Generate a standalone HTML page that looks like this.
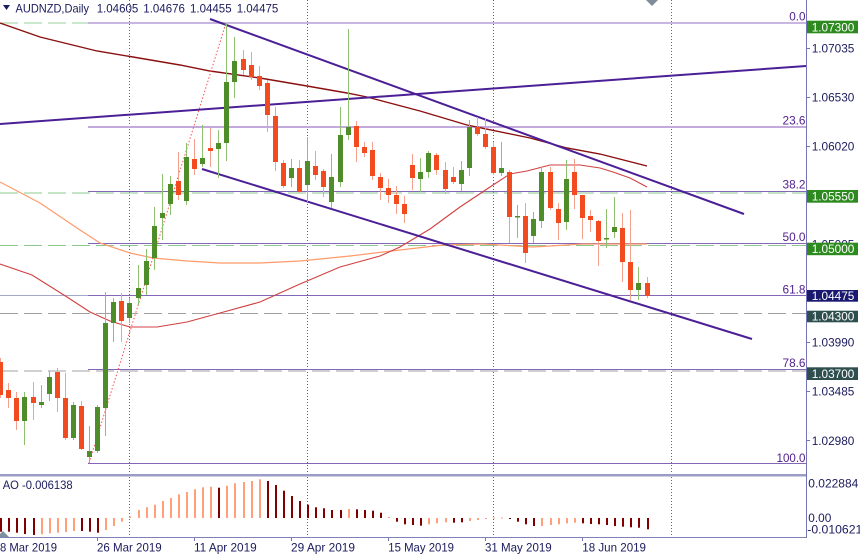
<!DOCTYPE html>
<html><head><meta charset="utf-8">
<style>
html,body{margin:0;padding:0;background:#fff;overflow:hidden;}
svg{display:block;}
.u{fill:#4f8c2a}.d{fill:#f24b1f}
.wu{stroke:#8ec070;stroke-width:1}.wd{stroke:#f5a08c;stroke-width:1}
.L{fill:#ffa07a}.D{fill:#800000}
.t{font-family:"Liberation Sans",Arial,sans-serif;font-size:12px;fill:#1b1b5e}
.f{font-family:"Liberation Sans",Arial,sans-serif;font-size:12px;fill:#4e1f8c}
.w{font-family:"Liberation Sans",Arial,sans-serif;font-size:12px;fill:#fff}
</style></head>
<body>
<svg width="860" height="556" viewBox="0 0 860 556" xmlns="http://www.w3.org/2000/svg">
<rect width="860" height="556" fill="#fff"/>
<!-- vertical grid -->
<g stroke="#5c5ca0" stroke-width="1" stroke-dasharray="1 2">
<line x1="129.5" y1="0" x2="129.5" y2="538"/>
<line x1="307.5" y1="0" x2="307.5" y2="538"/>
<line x1="493.5" y1="0" x2="493.5" y2="538"/>
<line x1="671.5" y1="0" x2="671.5" y2="538"/>
</g>
<!-- horizontal dashed levels -->
<g stroke-width="1" stroke-dasharray="18 6" fill="none">
<line x1="0" y1="23" x2="806" y2="23" stroke="#9ad09a"/>
<line x1="0" y1="193" x2="806" y2="193" stroke="#8cc88c"/>
<line x1="0" y1="245.5" x2="806" y2="245.5" stroke="#8cc88c"/>
<line x1="0" y1="313.5" x2="806" y2="313.5" stroke="#a0a0a0"/>
<line x1="0" y1="371" x2="806" y2="371" stroke="#a0a0a0"/>
</g>
<!-- bid line -->
<line x1="0" y1="295.5" x2="806" y2="295.5" stroke="#a4a8c8" stroke-width="1"/>
<!-- fib levels -->
<rect x="88" y="22" width="718" height="2" fill="#c9b6e0"/>
<rect x="88" y="126" width="718" height="2" fill="#c2aadc"/>
<g stroke="#8466b8" stroke-width="1">
<line x1="88" y1="191.5" x2="806" y2="191.5"/>
<line x1="88" y1="243.5" x2="806" y2="243.5"/>
<line x1="88" y1="295.5" x2="806" y2="295.5"/>
<line x1="88" y1="369.5" x2="806" y2="369.5"/>
<line x1="88" y1="463.5" x2="806" y2="463.5"/>
</g>
<g class="f" text-anchor="end">
<text x="805.5" y="20.5" textLength="16.3" lengthAdjust="spacingAndGlyphs">0.0</text>
<text x="805.5" y="124.3" textLength="23" lengthAdjust="spacingAndGlyphs">23.6</text>
<text x="805.5" y="188.5" textLength="23" lengthAdjust="spacingAndGlyphs">38.2</text>
<text x="805.5" y="241" textLength="23" lengthAdjust="spacingAndGlyphs">50.0</text>
<text x="805.5" y="293.5" textLength="23" lengthAdjust="spacingAndGlyphs">61.8</text>
<text x="805.5" y="367" textLength="23" lengthAdjust="spacingAndGlyphs">78.6</text>
<text x="805.5" y="462" textLength="29" lengthAdjust="spacingAndGlyphs">100.0</text>
</g>
<!-- moving averages -->
<polyline fill="none" stroke="#ff9a6a" stroke-width="1.2" points="0,182 40,203 80,230 100,243 130,253 153,258 187,261 220,263 260,263 300,261 350,256 400,250 443,245 483,244 533,247 583,244 647,244"/>
<polyline fill="none" stroke="#d04040" stroke-width="1.1" points="0,264 32,275 67,297 90,312 110,321 130,327 157,327 187,322 220,313 260,302 300,284 340,267 380,256 400,247 430,229 460,207 493,185 510,174 527,171 550,165 580,165 600,168 613,172 630,178 647,187"/>
<polyline fill="none" stroke="#8b1010" stroke-width="1.4" points="0,23 40,37 97,51 133,57 180,65 210,71 260,78 307,86 347,93 367,97 420,111 467,125 530,138 567,148 600,154 647,166"/>
<!-- trend lines -->
<g stroke="#4b1f96" stroke-width="2">
<line x1="210" y1="19" x2="744" y2="214"/>
<line x1="202" y1="169" x2="752" y2="339"/>
<line x1="0" y1="124" x2="806" y2="66"/>
</g>
<line x1="89" y1="463" x2="226" y2="23" stroke="#ff4d4d" stroke-width="1" stroke-dasharray="1.5 2"/>
<!-- candles -->
<g>
<line x1="0.5" y1="358" x2="0.5" y2="398" class="wd"/><rect x="-2" y="362" width="5" height="33" class="d"/>
<line x1="8.5" y1="383" x2="8.5" y2="408" class="wd"/><rect x="6" y="390" width="5" height="8" class="d"/>
<line x1="16.5" y1="392" x2="16.5" y2="430" class="wd"/><rect x="14" y="398" width="5" height="23" class="d"/>
<line x1="24.5" y1="392" x2="24.5" y2="445" class="wu"/><rect x="22" y="397" width="5" height="24" class="u"/>
<line x1="33.5" y1="382" x2="33.5" y2="420" class="wd"/><rect x="31" y="397" width="5" height="6" class="d"/>
<line x1="41.5" y1="385" x2="41.5" y2="408" class="wu"/><rect x="39" y="402" width="5" height="3" class="u"/>
<line x1="49.5" y1="371" x2="49.5" y2="401" class="wu"/><rect x="47" y="377" width="5" height="17" class="u"/>
<line x1="57.5" y1="368" x2="57.5" y2="412" class="wd"/><rect x="55" y="372" width="5" height="26" class="d"/>
<line x1="65.5" y1="373" x2="65.5" y2="440" class="wd"/><rect x="63" y="398" width="5" height="40" class="d"/>
<line x1="73.5" y1="402" x2="73.5" y2="440" class="wu"/><rect x="71" y="405" width="5" height="33" class="u"/>
<line x1="81.5" y1="401" x2="81.5" y2="450" class="wd"/><rect x="79" y="406" width="5" height="43" class="d"/>
<line x1="89.5" y1="426" x2="89.5" y2="463" class="wu"/><rect x="87" y="451" width="5" height="6" class="u"/>
<line x1="97.5" y1="405" x2="97.5" y2="453" class="wu"/><rect x="95" y="407" width="5" height="44" class="u"/>
<line x1="105.5" y1="292" x2="105.5" y2="436" class="wu"/><rect x="103" y="323" width="5" height="85" class="u"/>
<line x1="113.5" y1="298" x2="113.5" y2="342" class="wu"/><rect x="111" y="302" width="5" height="21" class="u"/>
<line x1="121.5" y1="293" x2="121.5" y2="342" class="wd"/><rect x="119" y="301" width="5" height="20" class="d"/>
<line x1="129.5" y1="298" x2="129.5" y2="323" class="wu"/><rect x="127" y="303" width="5" height="15" class="u"/>
<line x1="138.5" y1="265" x2="138.5" y2="305" class="wu"/><rect x="136" y="288" width="5" height="10" class="u"/>
<line x1="146.5" y1="249" x2="146.5" y2="295" class="wu"/><rect x="144" y="261" width="5" height="24" class="u"/>
<line x1="154.5" y1="207" x2="154.5" y2="270" class="wu"/><rect x="152" y="226" width="5" height="32" class="u"/>
<line x1="162.5" y1="174" x2="162.5" y2="240" class="wu"/><rect x="160" y="213" width="5" height="5" class="u"/>
<line x1="170.5" y1="176" x2="170.5" y2="215" class="wu"/><rect x="168" y="184" width="5" height="20" class="u"/>
<line x1="178.5" y1="152" x2="178.5" y2="200" class="wd"/><rect x="176" y="181" width="5" height="14" class="d"/>
<line x1="186.5" y1="143" x2="186.5" y2="205" class="wu"/><rect x="184" y="157" width="5" height="44" class="u"/>
<line x1="194.5" y1="139" x2="194.5" y2="175" class="wd"/><rect x="192" y="159" width="5" height="10" class="d"/>
<line x1="202.5" y1="125" x2="202.5" y2="167" class="wu"/><rect x="200" y="158" width="5" height="6" class="u"/>
<line x1="210.5" y1="128" x2="210.5" y2="167" class="wd"/><rect x="208" y="148" width="5" height="3" class="d"/>
<line x1="218.5" y1="130" x2="218.5" y2="178" class="wu"/><rect x="216" y="143" width="5" height="6" class="u"/>
<line x1="226.5" y1="23" x2="226.5" y2="161" class="wu"/><rect x="224" y="82" width="5" height="61" class="u"/>
<line x1="234.5" y1="37" x2="234.5" y2="98" class="wu"/><rect x="232" y="61" width="5" height="21" class="u"/>
<line x1="243.5" y1="50" x2="243.5" y2="75" class="wd"/><rect x="241" y="59" width="5" height="11" class="d"/>
<line x1="251.5" y1="52" x2="251.5" y2="80" class="wd"/><rect x="249" y="65" width="5" height="12" class="d"/>
<line x1="259.5" y1="66" x2="259.5" y2="90" class="wd"/><rect x="257" y="76" width="5" height="10" class="d"/>
<line x1="267.5" y1="80" x2="267.5" y2="132" class="wd"/><rect x="265" y="83" width="5" height="32" class="d"/>
<line x1="275.5" y1="107" x2="275.5" y2="171" class="wd"/><rect x="273" y="116" width="5" height="46" class="d"/>
<line x1="283.5" y1="160" x2="283.5" y2="188" class="wd"/><rect x="281" y="163" width="5" height="23" class="d"/>
<line x1="291.5" y1="159" x2="291.5" y2="187" class="wu"/><rect x="289" y="168" width="5" height="10" class="u"/>
<line x1="299.5" y1="160" x2="299.5" y2="193" class="wd"/><rect x="297" y="168" width="5" height="24" class="d"/>
<line x1="307.5" y1="137" x2="307.5" y2="202" class="wu"/><rect x="305" y="161" width="5" height="24" class="u"/>
<line x1="315.5" y1="151" x2="315.5" y2="180" class="wd"/><rect x="313" y="166" width="5" height="9" class="d"/>
<line x1="323.5" y1="169" x2="323.5" y2="197" class="wd"/><rect x="321" y="171" width="5" height="16" class="d"/>
<line x1="331.5" y1="154" x2="331.5" y2="208" class="wu"/><rect x="329" y="177" width="5" height="25" class="u"/>
<line x1="340.5" y1="107" x2="340.5" y2="187" class="wu"/><rect x="338" y="135" width="5" height="47" class="u"/>
<line x1="348.5" y1="29" x2="348.5" y2="140" class="wu"/><rect x="346" y="127" width="5" height="8" class="u"/>
<line x1="356.5" y1="121" x2="356.5" y2="162" class="wd"/><rect x="354" y="126" width="5" height="21" class="d"/>
<line x1="364.5" y1="142" x2="364.5" y2="157" class="wd"/><rect x="362" y="147" width="5" height="6" class="d"/>
<line x1="372.5" y1="142" x2="372.5" y2="180" class="wd"/><rect x="370" y="150" width="5" height="26" class="d"/>
<line x1="380.5" y1="173" x2="380.5" y2="200" class="wd"/><rect x="378" y="177" width="5" height="11" class="d"/>
<line x1="388.5" y1="179" x2="388.5" y2="203" class="wd"/><rect x="386" y="188" width="5" height="7" class="d"/>
<line x1="396.5" y1="186" x2="396.5" y2="214" class="wd"/><rect x="394" y="195" width="5" height="9" class="d"/>
<line x1="404.5" y1="196" x2="404.5" y2="223" class="wd"/><rect x="402" y="204" width="5" height="10" class="d"/>
<line x1="412.5" y1="154" x2="412.5" y2="190" class="wd"/><rect x="410" y="165" width="5" height="13" class="d"/>
<line x1="420.5" y1="158" x2="420.5" y2="192" class="wu"/><rect x="418" y="172" width="5" height="7" class="u"/>
<line x1="428.5" y1="151" x2="428.5" y2="178" class="wu"/><rect x="426" y="153" width="5" height="19" class="u"/>
<line x1="436.5" y1="153" x2="436.5" y2="175" class="wd"/><rect x="434" y="155" width="5" height="15" class="d"/>
<line x1="445.5" y1="162" x2="445.5" y2="194" class="wd"/><rect x="443" y="170" width="5" height="19" class="d"/>
<line x1="453.5" y1="167" x2="453.5" y2="184" class="wd"/><rect x="451" y="177" width="5" height="5" class="d"/>
<line x1="461.5" y1="161" x2="461.5" y2="191" class="wu"/><rect x="459" y="170" width="5" height="14" class="u"/>
<line x1="469.5" y1="120" x2="469.5" y2="176" class="wu"/><rect x="467" y="127" width="5" height="41" class="u"/>
<line x1="477.5" y1="117" x2="477.5" y2="136" class="wd"/><rect x="475" y="127" width="5" height="7" class="d"/>
<line x1="485.5" y1="119" x2="485.5" y2="149" class="wd"/><rect x="483" y="134" width="5" height="13" class="d"/>
<line x1="493.5" y1="142" x2="493.5" y2="175" class="wd"/><rect x="491" y="147" width="5" height="26" class="d"/>
<line x1="501.5" y1="142" x2="501.5" y2="176" class="wu"/><rect x="499" y="168" width="5" height="5" class="u"/>
<line x1="509.5" y1="170" x2="509.5" y2="243" class="wd"/><rect x="507" y="172" width="5" height="45" class="d"/>
<line x1="517.5" y1="205" x2="517.5" y2="238" class="wu"/><rect x="515" y="216" width="5" height="1.5" class="u"/>
<line x1="525.5" y1="203" x2="525.5" y2="263" class="wd"/><rect x="523" y="216" width="5" height="37" class="d"/>
<line x1="533.5" y1="212" x2="533.5" y2="243" class="wu"/><rect x="531" y="219" width="5" height="17" class="u"/>
<line x1="541.5" y1="167" x2="541.5" y2="228" class="wu"/><rect x="539" y="172" width="5" height="49" class="u"/>
<line x1="550.5" y1="167" x2="550.5" y2="210" class="wd"/><rect x="548" y="172" width="5" height="36" class="d"/>
<line x1="558.5" y1="203" x2="558.5" y2="240" class="wd"/><rect x="556" y="209" width="5" height="14" class="d"/>
<line x1="566.5" y1="160" x2="566.5" y2="230" class="wu"/><rect x="564" y="179" width="5" height="43" class="u"/>
<line x1="574.5" y1="159" x2="574.5" y2="209" class="wd"/><rect x="572" y="172" width="5" height="23" class="d"/>
<line x1="582.5" y1="195" x2="582.5" y2="239" class="wd"/><rect x="580" y="195" width="5" height="23" class="d"/>
<line x1="590.5" y1="210" x2="590.5" y2="232" class="wd"/><rect x="588" y="216" width="5" height="4" class="d"/>
<line x1="598.5" y1="220" x2="598.5" y2="266" class="wd"/><rect x="596" y="221" width="5" height="20" class="d"/>
<line x1="606.5" y1="209" x2="606.5" y2="248" class="wu"/><rect x="604" y="238" width="5" height="1.5" class="u"/>
<line x1="614.5" y1="197" x2="614.5" y2="238" class="wu"/><rect x="612" y="227" width="5" height="5" class="u"/>
<line x1="622.5" y1="213" x2="622.5" y2="282" class="wd"/><rect x="620" y="228" width="5" height="34" class="d"/>
<line x1="630.5" y1="210" x2="630.5" y2="300" class="wd"/><rect x="628" y="262" width="5" height="28" class="d"/>
<line x1="638.5" y1="267" x2="638.5" y2="300" class="wu"/><rect x="636" y="283" width="5" height="7" class="u"/>
<line x1="647.5" y1="277" x2="647.5" y2="298" class="wd"/><rect x="645" y="283" width="5" height="13" class="d"/>
</g>
<!-- shift markers -->
<polygon points="646,0 658,0 652,6" fill="#7f8c99"/>
<!-- separator and panel lines -->
<rect x="0" y="474" width="806" height="2.5" fill="#9a9cc8"/>
<line x1="0" y1="537.5" x2="806" y2="537.5" stroke="#8080b8" stroke-width="1"/>
<!-- AO bars -->
<g>
<rect x="0" y="518" width="2" height="13.7" class="D"/>
<rect x="8" y="518" width="2" height="13.7" class="D"/>
<rect x="16" y="518" width="2" height="14.7" class="D"/>
<rect x="24" y="518" width="2" height="16" class="D"/>
<rect x="33" y="518" width="2" height="17" class="D"/>
<rect x="41" y="518" width="2" height="16.3" class="L"/>
<rect x="49" y="518" width="2" height="15.3" class="L"/>
<rect x="57" y="518" width="2" height="14.7" class="L"/>
<rect x="65" y="518" width="2" height="14" class="L"/>
<rect x="73" y="518" width="2" height="13" class="L"/>
<rect x="81" y="518" width="2" height="13" class="D"/>
<rect x="89" y="518" width="2" height="13.7" class="D"/>
<rect x="97" y="518" width="2" height="14.7" class="D"/>
<rect x="105" y="518" width="2" height="12" class="L"/>
<rect x="113" y="518" width="2" height="8" class="L"/>
<rect x="121" y="518" width="2" height="3.7" class="L"/>
<rect x="129" y="516.5" width="2" height="1.5" class="L"/>
<rect x="138" y="510" width="2" height="8" class="L"/>
<rect x="146" y="507.3" width="2" height="10.7" class="L"/>
<rect x="154" y="504.7" width="2" height="13.3" class="L"/>
<rect x="162" y="501" width="2" height="17" class="L"/>
<rect x="170" y="498" width="2" height="20" class="L"/>
<rect x="178" y="494.3" width="2" height="23.7" class="L"/>
<rect x="186" y="492" width="2" height="26" class="L"/>
<rect x="194" y="489.3" width="2" height="28.7" class="L"/>
<rect x="202" y="487.3" width="2" height="30.7" class="L"/>
<rect x="210" y="486.7" width="2" height="31.3" class="L"/>
<rect x="218" y="487.7" width="2" height="30.3" class="D"/>
<rect x="226" y="485.7" width="2" height="32.3" class="L"/>
<rect x="234" y="483.3" width="2" height="34.7" class="L"/>
<rect x="243" y="482" width="2" height="36" class="L"/>
<rect x="251" y="481" width="2" height="37" class="L"/>
<rect x="259" y="479.3" width="2" height="38.7" class="L"/>
<rect x="267" y="481" width="2" height="37" class="D"/>
<rect x="275" y="485" width="2" height="33" class="D"/>
<rect x="283" y="490.7" width="2" height="27.3" class="D"/>
<rect x="291" y="496" width="2" height="22" class="D"/>
<rect x="299" y="501" width="2" height="17" class="D"/>
<rect x="307" y="504.7" width="2" height="13.3" class="D"/>
<rect x="315" y="507.3" width="2" height="10.7" class="D"/>
<rect x="323" y="508.3" width="2" height="9.7" class="D"/>
<rect x="331" y="510" width="2" height="8" class="D"/>
<rect x="340" y="510" width="2" height="8" class="D"/>
<rect x="348" y="509" width="2" height="9" class="L"/>
<rect x="356" y="509.3" width="2" height="8.7" class="D"/>
<rect x="364" y="510" width="2" height="8" class="D"/>
<rect x="372" y="510.7" width="2" height="7.3" class="D"/>
<rect x="380" y="512.7" width="2" height="5.3" class="D"/>
<rect x="388" y="517" width="2" height="1" class="L"/>
<rect x="396" y="518" width="2" height="3.7" class="D"/>
<rect x="404" y="518" width="2" height="6.3" class="D"/>
<rect x="412" y="518" width="2" height="7" class="D"/>
<rect x="420" y="518" width="2" height="7.7" class="D"/>
<rect x="428" y="518" width="2" height="6.3" class="L"/>
<rect x="436" y="518" width="2" height="5.3" class="L"/>
<rect x="445" y="518" width="2" height="4.3" class="L"/>
<rect x="453" y="518" width="2" height="4.7" class="D"/>
<rect x="461" y="518" width="2" height="4.3" class="D"/>
<rect x="469" y="518" width="2" height="3" class="L"/>
<rect x="477" y="518" width="2" height="2" class="L"/>
<rect x="485" y="518" width="2" height="1" class="L"/>
<rect x="493" y="517.5" width="2" height="1" class="L"/>
<rect x="501" y="517.5" width="2" height="1" class="L"/>
<rect x="509" y="518" width="2" height="1" class="D"/>
<rect x="517" y="518" width="2" height="3.7" class="D"/>
<rect x="525" y="518" width="2" height="6.3" class="D"/>
<rect x="533" y="518" width="2" height="8" class="D"/>
<rect x="541" y="518" width="2" height="8" class="L"/>
<rect x="550" y="518" width="2" height="7" class="L"/>
<rect x="558" y="518" width="2" height="6.3" class="L"/>
<rect x="566" y="518" width="2" height="5.3" class="L"/>
<rect x="574" y="518" width="2" height="4.7" class="L"/>
<rect x="582" y="518" width="2" height="5.3" class="D"/>
<rect x="590" y="518" width="2" height="6" class="D"/>
<rect x="598" y="518" width="2" height="6.3" class="D"/>
<rect x="606" y="518" width="2" height="7" class="D"/>
<rect x="614" y="518" width="2" height="8" class="D"/>
<rect x="622" y="518" width="2" height="8.7" class="D"/>
<rect x="630" y="518" width="2" height="9.3" class="D"/>
<rect x="638" y="518" width="2" height="9.7" class="D"/>
<rect x="647" y="518" width="2" height="11.3" class="D"/>
</g>
<polygon points="-3,537 9,537 3,531" fill="#8090a0"/>
<text class="t" x="2.7" y="489" textLength="70" lengthAdjust="spacingAndGlyphs">AO -0.006138</text>
<!-- right axis -->
<line x1="806.5" y1="0" x2="806.5" y2="538" stroke="#7474b8" stroke-width="1"/>
<g stroke="#7474b8" stroke-width="1">
<line x1="806" y1="48.5" x2="810" y2="48.5"/>
<line x1="806" y1="97.5" x2="810" y2="97.5"/>
<line x1="806" y1="146.5" x2="810" y2="146.5"/>
<line x1="806" y1="342.5" x2="810" y2="342.5"/>
<line x1="806" y1="391.5" x2="810" y2="391.5"/>
<line x1="806" y1="440.5" x2="810" y2="440.5"/>
</g>
<g class="t">
<text x="811.7" y="52.5" textLength="42.7" lengthAdjust="spacingAndGlyphs">1.07035</text>
<text x="811.7" y="101.7" textLength="42.7" lengthAdjust="spacingAndGlyphs">1.06530</text>
<text x="811.7" y="150.5" textLength="42.7" lengthAdjust="spacingAndGlyphs">1.06020</text>
<text x="811.7" y="248.5" textLength="42.7" lengthAdjust="spacingAndGlyphs">1.05005</text>
<text x="811.7" y="346.7" textLength="42.7" lengthAdjust="spacingAndGlyphs">1.03990</text>
<text x="811.7" y="395.5" textLength="42.7" lengthAdjust="spacingAndGlyphs">1.03485</text>
<text x="811.7" y="445" textLength="42.7" lengthAdjust="spacingAndGlyphs">1.02980</text>
<text x="808.3" y="487.3" textLength="50" lengthAdjust="spacingAndGlyphs">0.022884</text>
<text x="808.3" y="522" textLength="23" lengthAdjust="spacingAndGlyphs">0.00</text>
<text x="807.3" y="533.5" textLength="55" lengthAdjust="spacingAndGlyphs">-0.010621</text>
</g>
<!-- price boxes -->
<rect x="807" y="20.7" width="51" height="12.6" fill="#2d8a1f"/>
<rect x="807" y="190" width="51" height="12.7" fill="#2d8a1f"/>
<rect x="807" y="242.7" width="51" height="12.5" fill="#2d8a1f"/>
<rect x="807" y="290" width="51" height="11.7" fill="#191970"/>
<rect x="807" y="310.7" width="51" height="11.6" fill="#2f4f4f"/>
<rect x="807" y="367.3" width="51" height="12.7" fill="#2f4f4f"/>
<g class="w">
<text x="811.7" y="31.5" textLength="42.7" lengthAdjust="spacingAndGlyphs">1.07300</text>
<text x="811.7" y="200.7" textLength="42.7" lengthAdjust="spacingAndGlyphs">1.05550</text>
<text x="811.7" y="253.2" textLength="42.7" lengthAdjust="spacingAndGlyphs">1.05000</text>
<text x="811.7" y="299.8" textLength="42.7" lengthAdjust="spacingAndGlyphs">1.04475</text>
<text x="811.7" y="320.5" textLength="42.7" lengthAdjust="spacingAndGlyphs">1.04300</text>
<text x="811.7" y="378" textLength="42.7" lengthAdjust="spacingAndGlyphs">1.03700</text>
</g>
<!-- bottom axis -->
<g stroke="#7474b8" stroke-width="1">
<line x1="97.5" y1="538" x2="97.5" y2="541"/>
<line x1="194.5" y1="538" x2="194.5" y2="541"/>
<line x1="291.5" y1="538" x2="291.5" y2="541"/>
<line x1="388.5" y1="538" x2="388.5" y2="541"/>
<line x1="485.5" y1="538" x2="485.5" y2="541"/>
<line x1="582.5" y1="538" x2="582.5" y2="541"/>
</g>
<g class="t">
<text x="0" y="551.7" textLength="57" lengthAdjust="spacingAndGlyphs">8 Mar 2019</text>
<text x="97" y="551.7" textLength="64.7" lengthAdjust="spacingAndGlyphs">26 Mar 2019</text>
<text x="194" y="551.7" textLength="62.7" lengthAdjust="spacingAndGlyphs">11 Apr 2019</text>
<text x="291" y="551.7" textLength="64" lengthAdjust="spacingAndGlyphs">29 Apr 2019</text>
<text x="388.3" y="551.7" textLength="65.7" lengthAdjust="spacingAndGlyphs">15 May 2019</text>
<text x="485" y="551.7" textLength="66.7" lengthAdjust="spacingAndGlyphs">31 May 2019</text>
<text x="582.3" y="551.7" textLength="63.7" lengthAdjust="spacingAndGlyphs">18 Jun 2019</text>
</g>
<!-- title -->
<polygon points="3,5 10,5 6.5,10" fill="#1b1b5e"/>
<g class="t">
<text x="15.5" y="12.3" textLength="73.5" lengthAdjust="spacingAndGlyphs">AUDNZD,Daily</text>
<text x="96.7" y="12.3" textLength="41.6" lengthAdjust="spacingAndGlyphs">1.04605</text>
<text x="143.3" y="12.3" textLength="41.6" lengthAdjust="spacingAndGlyphs">1.04676</text>
<text x="190" y="12.3" textLength="41.6" lengthAdjust="spacingAndGlyphs">1.04455</text>
<text x="236.7" y="12.3" textLength="41.6" lengthAdjust="spacingAndGlyphs">1.04475</text>
</g>
</svg>
</body></html>
